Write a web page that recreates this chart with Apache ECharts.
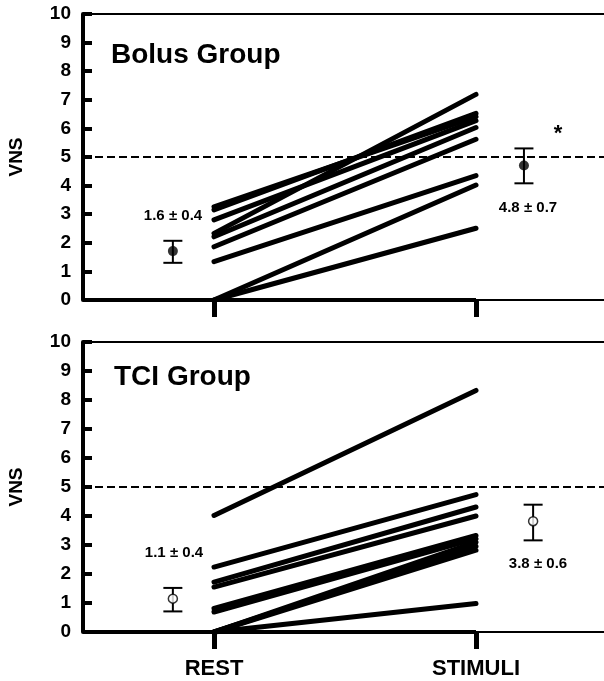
<!DOCTYPE html>
<html>
<head>
<meta charset="utf-8">
<script src="https://cdn.jsdelivr.net/npm/echarts@6/dist/echarts.min.js"></script>
<style>
html,body{margin:0;padding:0;background:#fff;}
#chart{width:604px;height:681px;}
</style>
</head>
<body>
<div id="chart"></div>
<script>
// ---- data ----
const categories = ['REST', 'STIMULI'];
const yTicks = [0, 1, 2, 3, 4, 5, 6, 7, 8, 9, 10];
const threshold = 5;

const bolusRest = [3.26, 3.15, 2.80, 2.33, 2.21, 1.86, 1.34, 0, 0];
const bolusStim = [6.41, 6.53, 6.27, 7.19, 6.03, 5.62, 4.35, 4.02, 2.51];
const tciRest = [4.02, 2.24, 1.72, 1.55, 0.81, 0.69, 0, 0, 0, 0];
const tciStim = [8.33, 4.74, 4.31, 4.00, 3.33, 3.22, 3.10, 2.96, 2.82, 0.98];

const bolusMean = [1.71, 4.70];
const bolusLow = [1.30, 4.08];
const bolusHigh = [2.07, 5.30];
const tciMean = [1.15, 3.82];
const tciLow = [0.71, 3.16];
const tciHigh = [1.52, 4.39];

const bolusLabels = ['1.6 \u00b1 0.4', '4.8 \u00b1 0.7'];
const tciLabels = ['1.1 \u00b1 0.4', '3.8 \u00b1 0.6'];
const groupNames = ['Bolus Group', 'TCI Group'];
const sigMark = '*';

// x positions (category index 1 = REST, 2 = STIMULI); summary markers sit beside them
const bolusMeanX = [0.843, 2.183];
const tciMeanX = [0.843, 2.218];

// ---- chart ----
const FONT = '"Liberation Sans", Arial, Helvetica, sans-serif';
const X_MIN = 0.5, X_MAX = 2.5;
const chart = echarts.init(document.getElementById('chart'), null, {renderer: 'canvas'});

const grids = [
  {left: 83, right: -3, top: 14, height: 286},
  {left: 83, right: -3, top: 342, height: 290}
].map(g => Object.assign(g, {show: true, borderColor: '#000', borderWidth: 2, backgroundColor: 'transparent',
  containLabel: false, outerBoundsMode: 'none'}));

function xAxis(i) {
  return {
    type: 'value', gridIndex: i, min: X_MIN, max: X_MAX,
    axisLine: {show: true, lineStyle: {color: '#000', width: 2}},
    axisTick: {show: true, customValues: [1, 2], inside: false, length: 17, lineStyle: {color: '#000', width: 5}},
    axisLabel: {
      show: i === 1, customValues: [1, 2], margin: 26,
      formatter: v => categories[Math.round(v) - 1] || '',
      color: '#000', fontFamily: FONT, fontWeight: 'bold', fontSize: 22
    },
    splitLine: {show: false}
  };
}
function yAxis(i) {
  return {
    type: 'value', gridIndex: i, min: yTicks[0], max: yTicks[yTicks.length - 1], interval: 1,
    name: 'VNS', nameLocation: 'middle', nameRotate: 90, nameGap: 57,
    nameTextStyle: {color: '#000', fontFamily: FONT, fontWeight: 'bold', fontSize: 19},
    axisLine: {show: true, lineStyle: {color: '#000', width: 4}},
    axisTick: {show: true, inside: true, length: 9, lineStyle: {color: '#000', width: 4}},
    axisLabel: {margin: 12, color: '#000', fontFamily: FONT, fontWeight: 'bold', fontSize: 19},
    splitLine: {show: false}
  };
}

const series = [];
function addPanel(i, rest, stim, meanX, mean, low, high, filled) {
  // threshold dashed line
  series.push({
    type: 'line', xAxisIndex: i, yAxisIndex: i, symbol: 'none', silent: true, z: 1,
    data: [[X_MIN, threshold], [X_MAX, threshold]],
    lineStyle: {color: '#000', width: 2, type: [8, 4]}
  });
  // thick baseline from axis to STIMULI
  series.push({
    type: 'line', xAxisIndex: i, yAxisIndex: i, symbol: 'none', silent: true, clip: false, z: 3,
    data: [[X_MIN, 0], [2, 0]],
    lineStyle: {color: '#000', width: 4}
  });
  // individual subjects
  rest.forEach((r, k) => {
    series.push({
      type: 'line', xAxisIndex: i, yAxisIndex: i, symbol: 'none', silent: true, clip: false, z: 2,
      data: [[1, r], [2, stim[k]]],
      lineStyle: {color: '#000', width: 5, cap: 'round'}
    });
  });
  // error bars
  series.push({
    type: 'custom', xAxisIndex: i, yAxisIndex: i, silent: true, z: 4,
    data: meanX.map((x, k) => [x, low[k], high[k]]),
    renderItem: function (params, api) {
      const x = api.value(0);
      const pLo = api.coord([x, api.value(1)]);
      const pHi = api.coord([x, api.value(2)]);
      const w = 9.5;
      const st = {stroke: '#000', lineWidth: 2};
      return {type: 'group', children: [
        {type: 'line', shape: {x1: pLo[0], y1: pLo[1], x2: pHi[0], y2: pHi[1]}, style: st},
        {type: 'line', shape: {x1: pLo[0] - w, y1: pLo[1], x2: pLo[0] + w, y2: pLo[1]}, style: st},
        {type: 'line', shape: {x1: pHi[0] - w, y1: pHi[1], x2: pHi[0] + w, y2: pHi[1]}, style: st}
      ]};
    }
  });
  // means
  series.push({
    type: 'scatter', xAxisIndex: i, yAxisIndex: i, silent: true, z: 5,
    symbol: 'circle', symbolSize: filled ? 10 : 9,
    data: meanX.map((x, k) => [x, mean[k]]),
    itemStyle: filled ? {color: '#000'} : {color: '#fff', borderColor: '#000', borderWidth: 1.5}
  });
}
addPanel(0, bolusRest, bolusStim, bolusMeanX, bolusMean, bolusLow, bolusHigh, true);
addPanel(1, tciRest, tciStim, tciMeanX, tciMean, tciLow, tciHigh, false);

function txt(x, y, s, size, align) {
  return {type: 'text', x: x, y: y, z: 10, silent: true,
    style: {text: s, fill: '#000', font: 'bold ' + size + 'px ' + FONT,
      textAlign: align || 'center', textVerticalAlign: 'middle'}};
}

chart.setOption({
  animation: false,
  backgroundColor: '#fff',
  grid: grids,
  xAxis: [xAxis(0), xAxis(1)],
  yAxis: [yAxis(0), yAxis(1)],
  series: series,
  graphic: [
    txt(111, 55, groupNames[0], 28, 'left'),
    txt(114, 377, groupNames[1], 28, 'left'),
    txt(173, 216, bolusLabels[0], 15),
    txt(528, 208, bolusLabels[1], 15),
    txt(174, 553, tciLabels[0], 15),
    txt(538, 564, tciLabels[1], 15),
    txt(558, 134, sigMark, 22)
  ]
});
</script>
</body>
</html>
